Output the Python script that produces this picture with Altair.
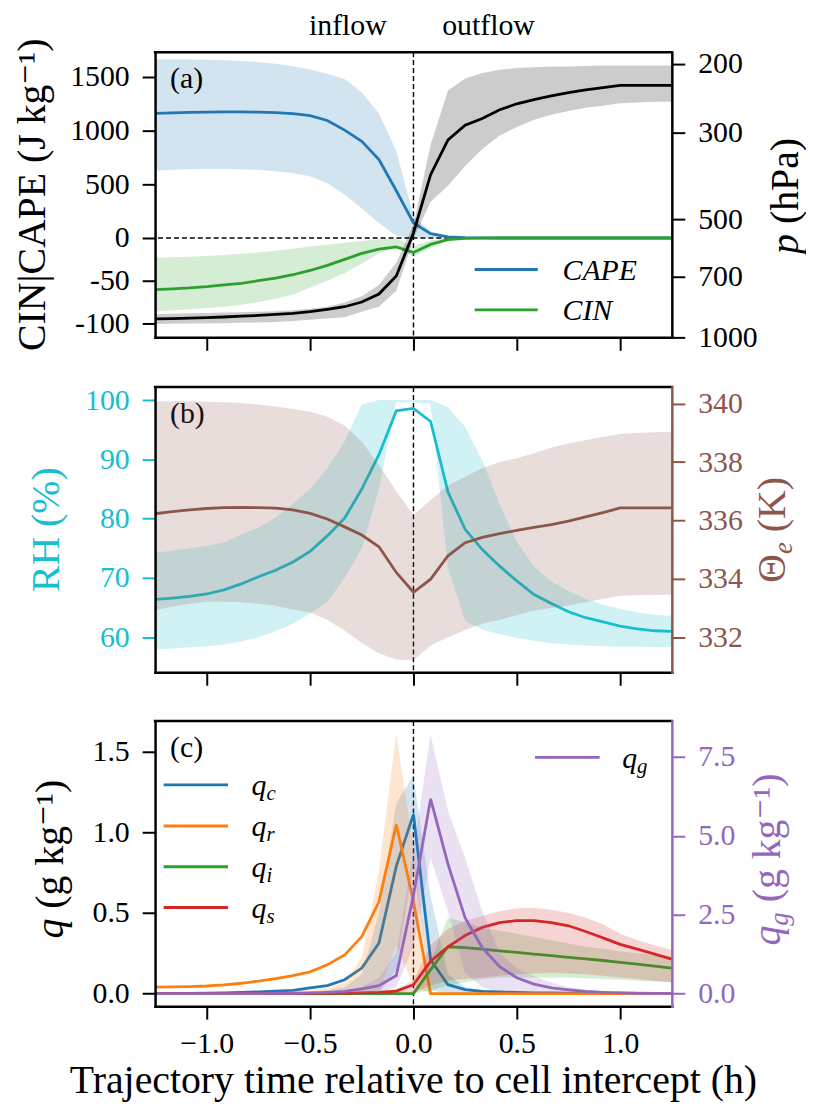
import altair as alt
import pandas as pd

FONT = "'Liberation Serif', 'Times New Roman', Times, 'DejaVu Serif', serif"
W, H = 520, 287

C_BLUE, C_ORANGE, C_GREEN, C_RED = "#1f77b4", "#ff7f0e", "#2ca02c", "#d62728"
C_PURPLE, C_BROWN, C_CYAN = "#9467bd", "#8c564b", "#17becf"

# ---------------- data (time in hours relative to cell intercept) ----------------
T = [-1.25, -1.167, -1.083, -1.0, -0.917, -0.833, -0.75, -0.667, -0.583, -0.5, -0.417,
     -0.333, -0.25, -0.167, -0.083, 0.0, 0.083, 0.167, 0.25, 0.333, 0.417, 0.5, 0.583,
     0.667, 0.75, 0.833, 0.917, 1.0, 1.083, 1.167, 1.25]

# panel (a)
CAPE = [1160, 1165, 1170, 1172, 1174, 1175, 1173, 1168, 1158, 1140, 1095, 1005, 900, 730, 440,
        140, 40, 10, 3, 1, 0, 0, 0, 0, 0, 0, 0, 0, 0, 0, 0]
CAPE_LO = [627, 635, 640, 642, 642, 640, 635, 622, 602, 575, 510, 405, 275, 140, 20,
           0, 0, 0, 0, 0, 0, 0, 0, 0, 0, 0, 0, 0, 0, 0, 0]
CAPE_HI = [1665, 1665, 1663, 1660, 1655, 1648, 1638, 1622, 1600, 1570, 1530, 1480, 1355, 1160, 810,
           200, 60, 15, 5, 2, 0, 0, 0, 0, 0, 0, 0, 0, 0, 0, 0]
CIN = [-60.5, -59.5, -58.5, -57, -55, -53, -50, -47, -43, -38, -32, -25, -18, -13, -10.5,
       -17, -7.5, -2, -0.5, -0.2, 0, 0, 0, 0, 0, 0, 0, 0, 0, 0, 0]
CIN_LO = [-86, -85, -83.5, -82, -80.5, -78, -75, -71, -66, -58, -50, -41, -30, -18, -12,
          -22, -12, -3, -1, -0.3, 0, 0, 0, 0, 0, 0, 0, 0, 0, 0, 0]
CIN_HI = [-23, -22.5, -22, -21, -20, -18.5, -17, -15, -12.5, -10, -8, -5.5, -3.5, -1.5, -0.5,
          -10, -3, 0, 0, 0, 0, 0, 0, 0, 0, 0, 0, 0, 0, 0, 0]
P = [897, 895, 893, 890, 887, 883, 879, 874, 868, 860, 848, 835, 812, 775, 697,
     541, 384, 313, 287, 276, 262, 253, 247, 241.5, 237, 233, 230, 227, 227, 227, 227]
P_HI = [924, 923, 922, 921, 920, 918, 916, 913, 908, 902, 895, 889, 860, 835, 760,
        560, 450, 410, 365, 330, 305, 290, 278, 270, 264, 259, 256, 252, 251, 250, 250]
P_LO = [871, 870, 868, 866, 864, 862, 860, 857, 852, 845, 835, 815, 785, 735, 645,
        516, 322, 234, 218, 211, 207, 205, 204, 203, 203, 202.5, 202, 202, 202, 202, 202]

# panel (b)
RH = [66.4, 66.6, 66.9, 67.3, 68.0, 69.0, 70.2, 71.3, 72.7, 74.5, 77.1, 80.1, 85.0, 90.8, 98.2,
      98.6, 96.4, 84.5, 78.2, 74.8, 72.0, 69.5, 67.2, 65.7, 64.3, 63.3, 62.6, 61.9, 61.4, 61.1, 61.0]
RH_LO = [57.9, 58.1, 58.3, 58.5, 58.8, 59.3, 60.0, 61.0, 62.3, 64.0, 66.0, 70.0, 75.0, 85.0, 99.6,
         99.6, 99.4, 71.7, 62.8, 61.3, 60.5, 59.9, 59.4, 59.0, 58.8, 58.6, 58.5, 58.4, 58.4, 58.3, 58.3]
RH_HI = [74.3, 74.6, 75.0, 75.4, 76.0, 77.3, 78.5, 80.2, 82.5, 85.0, 88.5, 93.0, 99.3, 100, 100,
         100, 100, 98.8, 95.5, 89.8, 82.4, 76.1, 72.0, 69.4, 67.8, 66.5, 65.5, 64.8, 64.2, 63.8, 63.6]
TH = [336.23, 336.30, 336.36, 336.41, 336.44, 336.45, 336.44, 336.42, 336.36, 336.24, 336.05,
      335.78, 335.5, 335.1, 334.22, 333.54, 333.99, 334.79, 335.24, 335.42, 335.55, 335.66,
      335.76, 335.86, 335.98, 336.12, 336.27, 336.43, 336.43, 336.43, 336.43]
TH_LO = [332.92, 333.05, 333.15, 333.22, 333.22, 333.2, 333.15, 333.08, 332.95, 332.85, 332.6,
         332.23, 331.8, 331.45, 331.24, 331.21, 331.72, 332.0, 332.25, 332.46, 332.6, 332.75,
         332.91, 333.0, 333.1, 333.2, 333.32, 333.42, 333.44, 333.45, 333.46]
TH_HI = [340.08, 340.08, 340.08, 340.07, 340.05, 340.02, 339.97, 339.9, 339.82, 339.72, 339.55,
         339.25, 338.7, 337.9, 337.0, 336.2, 336.7, 337.2, 337.5, 337.8, 338.0, 338.13,
         338.3, 338.5, 338.64, 338.75, 338.87, 338.96, 339.0, 339.02, 339.04]

# panel (c)
QC = [0.0, 0.001, 0.002, 0.003, 0.005, 0.008, 0.011, 0.015, 0.02, 0.035, 0.05, 0.086, 0.158, 0.313,
      0.79, 1.11, 0.21, 0.055, 0.025, 0.014, 0.01, 0.007, 0.005, 0.004, 0.003, 0.003, 0.002, 0.002,
      0.001, 0.001, 0.001]
QC_LO = [0, 0, 0, 0, 0, 0, 0, 0, 0, 0, 0, 0, 0, 0, 0.15, 0.8, 0.02,
         0, 0, 0, 0, 0, 0, 0, 0, 0, 0, 0, 0, 0, 0]
QC_HI = [0, 0, 0, 0, 0.001, 0.002, 0.003, 0.005, 0.008, 0.012, 0.02, 0.04, 0.12, 0.5, 1.18, 1.35,
         0.6, 0.12, 0.04, 0.02, 0.012, 0.008, 0.005, 0.003, 0.002, 0.002, 0.001, 0.001, 0.001,
         0.001, 0.001]
QR = [0.040, 0.041, 0.043, 0.047, 0.054, 0.064, 0.077, 0.092, 0.112, 0.135, 0.178, 0.24, 0.353,
      0.569, 1.047, 0.57, 0, 0, 0, 0, 0, 0, 0, 0, 0, 0, 0, 0, 0, 0, 0]
QR_LO = [0, 0, 0, 0, 0, 0, 0, 0, 0, 0, 0, 0, 0, 0, 0.3, 0.05,
         0, 0, 0, 0, 0, 0, 0, 0, 0, 0, 0, 0, 0, 0, 0]
QR_HI = [0.005, 0.005, 0.005, 0.006, 0.007, 0.008, 0.01, 0.013, 0.017, 0.023, 0.035, 0.07, 0.22,
         0.76, 1.61, 0.9, 0, 0, 0, 0, 0, 0, 0, 0, 0, 0, 0, 0, 0, 0, 0]
QI = [0, 0, 0, 0, 0, 0, 0, 0, 0, 0, 0, 0, 0, 0, 0, 0,
      0.148, 0.29, 0.285, 0.275, 0.265, 0.255, 0.245, 0.235, 0.225, 0.215, 0.205, 0.193, 0.182,
      0.17, 0.158]
QI_LO = [0, 0, 0, 0, 0, 0, 0, 0, 0, 0, 0, 0, 0, 0, 0, 0,
         0.02, 0.05, 0.07, 0.09, 0.1, 0.1, 0.1, 0.1, 0.1, 0.095, 0.09, 0.085, 0.08, 0.075, 0.07]
QI_HI = [0, 0, 0, 0, 0, 0, 0, 0, 0, 0, 0, 0, 0, 0, 0, 0,
         0.2, 0.47, 0.44, 0.41, 0.39, 0.37, 0.35, 0.33, 0.31, 0.29, 0.28, 0.26, 0.25, 0.24, 0.23]
QS = [0, 0, 0, 0, 0, 0, 0, 0, 0, 0.001, 0.001, 0.002, 0.004, 0.008, 0.015, 0.055,
      0.2, 0.29, 0.36, 0.41, 0.44, 0.452, 0.452, 0.44, 0.42, 0.385, 0.345, 0.305, 0.275, 0.245,
      0.214]
QS_LO = [0, 0, 0, 0, 0, 0, 0, 0, 0, 0, 0, 0, 0, 0, 0, 0,
         0.05, 0.08, 0.09, 0.1, 0.11, 0.12, 0.125, 0.128, 0.125, 0.12, 0.11, 0.1, 0.09, 0.08, 0.07]
QS_HI = [0, 0, 0, 0, 0, 0, 0, 0, 0, 0.002, 0.003, 0.005, 0.008, 0.015, 0.03, 0.08,
         0.3, 0.4, 0.45, 0.48, 0.51, 0.528, 0.53, 0.52, 0.5, 0.47, 0.43, 0.37, 0.33, 0.3, 0.27]
QG = [0, 0, 0, 0, 0, 0, 0, 0.005, 0.01, 0.02, 0.04, 0.07, 0.15, 0.25, 0.57, 3.12,
      6.17, 4.1, 2.4, 1.45, 0.85, 0.5, 0.3, 0.18, 0.12, 0.07, 0.04, 0.02, 0.01, 0.005, 0.0]
QG_LO = [0, 0, 0, 0, 0, 0, 0, 0, 0, 0, 0, 0, 0, 0.05, 0.2, 1.5,
         4.3, 2.6, 0.65, 0.2, 0.05, 0, 0, 0, 0, 0, 0, 0, 0, 0, 0]
QG_HI = [0, 0, 0, 0, 0, 0, 0, 0.01, 0.02, 0.03, 0.05, 0.1, 0.2, 0.5, 1.3, 4.5,
         8.2, 5.8, 4.3, 2.6, 1.3, 0.8, 0.55, 0.35, 0.2, 0.12, 0.08, 0.05, 0.03, 0.02, 0.01]

X_TICKS = [-1.0, -0.5, 0.0, 0.5, 1.0]


# ---------------- helpers ----------------
def xenc(show_labels):
    return alt.X(
        "t:Q",
        scale=alt.Scale(domain=[-1.25, 1.25], nice=False, zero=False),
        axis=alt.Axis(values=X_TICKS, format=".1f", labels=show_labels, title=None, grid=False,
                      domain=True, domainColor="black", domainWidth=2.5, domainCap="square",
                      ticks=True, tickSize=13, tickWidth=2, tickColor="black",
                      labelFont=FONT, labelFontSize=30, labelColor="black", labelPadding=10,
                      labelFlush=False, labelOverlap=False, zindex=1),
    )


def yaxis(values, orient, color="black", spine="black", fmt="d", label_expr=None):
    kw = dict(values=values, orient=orient, format=fmt, title=None, grid=False, domain=True,
              domainColor=spine, domainWidth=2.5, domainCap="square", tickSize=13, tickWidth=2,
              tickColor=color, labelFont=FONT, labelFontSize=30, labelColor=color,
              labelPadding=13, labelFlush=False, labelOverlap=False, zindex=1)
    if label_expr:
        kw["labelExpr"] = label_expr
    return alt.Axis(**kw)


def band_line(mean, lo, hi, color, yscale, yax, xl, band_color=None):
    df = pd.DataFrame({"t": T, "v": mean, "lo": lo, "hi": hi})
    band = alt.Chart(df).mark_area(color=band_color or color, opacity=0.2).encode(
        x=xenc(xl), y=alt.Y("lo:Q", scale=yscale, axis=yax, stack=None), y2="hi:Q")
    line = alt.Chart(df).mark_line(color=color, strokeWidth=2.8).encode(
        x=xenc(xl), y=alt.Y("v:Q", scale=yscale, axis=yax))
    return band, line


def txt(s, x, y, size=30, color="black", italic=False, angle=0, align="left",
        baseline="alphabetic"):
    return alt.Chart(pd.DataFrame({"s": [s]})).mark_text(
        font=FONT, fontSize=size, color=color, fontStyle="italic" if italic else "normal",
        angle=angle, align=align, baseline=baseline).encode(
        x=alt.value(x), y=alt.value(y), text="s:N")


def seg(x1, x2, y, color, width=2.8, dash=None):
    kw = dict(color=color, strokeWidth=width, strokeCap="square")
    if dash:
        kw["strokeDash"] = dash
    return alt.Chart(pd.DataFrame({"a": [0]})).mark_rule(**kw).encode(
        x=alt.value(x1), x2=alt.value(x2), y=alt.value(y))


def vzero(xl):
    return alt.Chart(pd.DataFrame({"t": [0.0]})).mark_rule(
        color="black", strokeWidth=1.4, strokeDash=[5, 3]).encode(x=xenc(xl))


TOP = lambda: seg(0, W, 0, "black", width=2.5)
TITLE = 40

# ---------------- panel (a) ----------------
ya_scale = alt.Scale(domain=[-116.3, 0, 1731], range=[287, 187, 0], nice=False, zero=False)
ya_axis = yaxis([-100, -50, 0, 500, 1000, 1500], "left",
                label_expr="datum.value < 0 ? '-' + format(-datum.value, 'd') : format(datum.value, 'd')")
yp_scale = alt.Scale(type="log", domain=[186.7, 1000], reverse=True, nice=False)
yp_axis = yaxis([200, 300, 500, 700, 1000], "right")

cape_b, cape_l = band_line(CAPE, CAPE_LO, CAPE_HI, C_BLUE, ya_scale, ya_axis, False)
cin_b, cin_l = band_line(CIN, CIN_LO, CIN_HI, C_GREEN, ya_scale, ya_axis, False)
p_b, p_l = band_line(P, P_LO, P_HI, "black", yp_scale, yp_axis, False)
hzero = alt.Chart(pd.DataFrame({"v": [0.0]})).mark_rule(
    color="black", strokeWidth=1.4, strokeDash=[5, 3]).encode(y=alt.Y("v:Q", scale=ya_scale, axis=ya_axis))

left_a = alt.layer(
    hzero, vzero(False), cape_b, cin_b, cape_l, cin_l, TOP(),
    txt("(a)", 15, 27.5, baseline="middle"),
    txt("inflow", 194, -17, align="center"),
    txt("outflow", 335.5, -17, align="center"),
    seg(323, 383.7, 218.7, C_BLUE), seg(323, 383.7, 259.3, C_GREEN),
    txt("CAPE", 410, 229.3, italic=True), txt("CIN", 410, 270, italic=True),
    txt("CIN|CAPE (J kg⁻¹)", -111, 143.5, size=TITLE, angle=270, align="center"),
    txt("p", 647, 203, size=TITLE, italic=True, angle=270),
    txt("(hPa)", 647, 173, size=TITLE, angle=270),
)
right_a = alt.layer(p_b, p_l)
panel_a = alt.layer(left_a, right_a).resolve_scale(y="independent").properties(width=W, height=H)

# ---------------- panel (b) ----------------
yrh_scale = alt.Scale(domain=[54.1, 102.2], nice=False, zero=False)
yrh_axis = yaxis([60, 70, 80, 90, 100], "left", color=C_CYAN, spine="black")
yth_scale = alt.Scale(domain=[330.8, 340.57], nice=False, zero=False)
yth_axis = yaxis([332, 334, 336, 338, 340], "right", color=C_BROWN, spine=C_BROWN)

rh_b, rh_l = band_line(RH, RH_LO, RH_HI, C_CYAN, yrh_scale, yrh_axis, False)
th_b, th_l = band_line(TH, TH_LO, TH_HI, C_BROWN, yth_scale, yth_axis, False)

left_b = alt.layer(
    vzero(False), rh_b, rh_l, TOP(),
    txt("(b)", 15, 27.5, baseline="middle"),
    txt("RH (%)", -96.3, 143.5, size=TITLE, color=C_CYAN, angle=270, align="center"),
    txt("Θ", 633.7, 197, size=TITLE, color=C_BROWN, angle=270),
    txt("e", 641, 168, size=27, color=C_BROWN, italic=True, angle=270),
    txt("(K)", 633.7, 146, size=TITLE, color=C_BROWN, angle=270),
)
right_b = alt.layer(th_b, th_l)
panel_b = alt.layer(left_b, right_b).resolve_scale(y="independent").properties(width=W, height=H)

# ---------------- panel (c) ----------------
yq_scale = alt.Scale(domain=[-0.078, 1.689], nice=False, zero=False)
yq_axis = yaxis([0.0, 0.5, 1.0, 1.5], "left", fmt=".1f")
yg_scale = alt.Scale(domain=[-0.4, 8.64], nice=False, zero=False)
yg_axis = yaxis([0.0, 2.5, 5.0, 7.5], "right", color=C_PURPLE, spine=C_PURPLE, fmt=".1f")

qc_b, qc_l = band_line(QC, QC_LO, QC_HI, C_BLUE, yq_scale, yq_axis, True)
qr_b, qr_l = band_line(QR, QR_LO, QR_HI, C_ORANGE, yq_scale, yq_axis, True)
qi_b, qi_l = band_line(QI, QI_LO, QI_HI, C_GREEN, yq_scale, yq_axis, True)
qs_b, qs_l = band_line(QS, QS_LO, QS_HI, C_RED, yq_scale, yq_axis, True)
qg_b, qg_l = band_line(QG, QG_LO, QG_HI, C_PURPLE, yg_scale, yg_axis, True)

legend_c = []
for i, (sub, col) in enumerate([("c", C_BLUE), ("r", C_ORANGE), ("i", C_GREEN), ("s", C_RED)]):
    ly = [64.3, 105.7, 146.7, 187.7][i]
    legend_c += [seg(10, 72, ly, col), txt("q", 97, ly + 10.5, italic=True),
                 txt(sub, 112, ly + 15.5, size=21, italic=True)]

left_c = alt.layer(
    vzero(True), qc_b, qc_l, qr_b, qr_l, qi_b, qi_l, qs_b, qs_l, TOP(),
    txt("(c)", 15, 27.5, baseline="middle"),
    *legend_c,
    seg(383.7, 446, 36.7, C_PURPLE), txt("q", 470, 47.2, italic=True),
    txt("g", 485, 52.2, size=21, italic=True),
    txt("q", -93, 219, size=TITLE, italic=True, angle=270),
    txt("(g kg⁻¹)", -93, 189, size=TITLE, angle=270),
    txt("q", 629, 226, size=TITLE, color=C_PURPLE, italic=True, angle=270),
    txt("g", 637, 206, size=27, color=C_PURPLE, italic=True, angle=270),
    txt("(g kg⁻¹)", 629, 182.5, size=TITLE, color=C_PURPLE, angle=270),
    txt("Trajectory time relative to cell intercept (h)", 260, 374, size=TITLE, align="center"),
)
right_c = alt.layer(qg_b, qg_l)
panel_c = alt.layer(left_c, right_c).resolve_scale(y="independent").properties(width=W, height=H)

chart = alt.vconcat(panel_a, panel_b, panel_c, spacing=33).properties(
    padding={"left": 5, "top": 0, "right": 0, "bottom": 0}
).configure_view(stroke=None)

chart.save("out.html", embed_options={"renderer": "svg", "actions": False})
